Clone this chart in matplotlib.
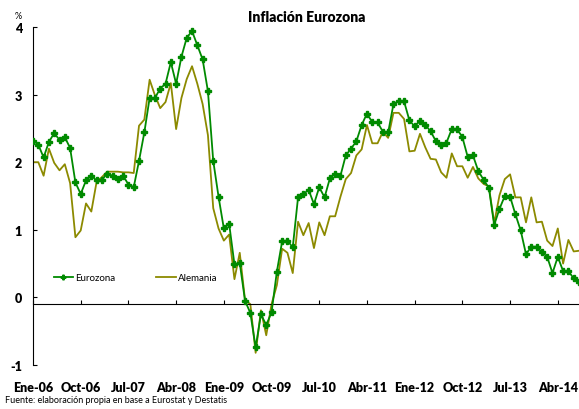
import numpy as np
import matplotlib
matplotlib.use('Agg')
import matplotlib.pyplot as plt

plt.rcParams['font.family'] = ['Lato', 'DejaVu Sans']

# monthly y/y inflation, Jan 2006 .. Aug 2014
eurozona = [2.32, 2.26, 2.07, 2.30, 2.43, 2.33, 2.37, 2.21, 1.70, 1.53,
            1.73, 1.80, 1.73, 1.74, 1.83, 1.80, 1.75, 1.80, 1.67, 1.63,
            2.02, 2.44, 2.95, 2.95, 3.09, 3.16, 3.48, 3.16, 3.56, 3.84,
            3.94, 3.73, 3.52, 3.05, 2.02, 1.49, 1.02, 1.09, 0.49, 0.51,
            -0.05, -0.23, -0.74, -0.25, -0.41, -0.22, 0.38, 0.83, 0.84, 0.74,
            1.48, 1.53, 1.59, 1.38, 1.63, 1.48, 1.76, 1.83, 1.80, 2.10,
            2.20, 2.31, 2.55, 2.72, 2.59, 2.59, 2.45, 2.44, 2.86, 2.91,
            2.90, 2.62, 2.53, 2.61, 2.55, 2.46, 2.31, 2.25, 2.29, 2.49,
            2.49, 2.37, 2.08, 2.10, 1.87, 1.74, 1.62, 1.07, 1.31, 1.50,
            1.49, 1.23, 0.99, 0.64, 0.75, 0.75, 0.67, 0.60, 0.36, 0.60,
            0.39, 0.39, 0.28, 0.23]

alemania = [2.00, 2.00, 1.80, 2.20, 1.99, 1.88, 1.97, 1.69, 0.89, 0.99,
            1.39, 1.27, 1.71, 1.78, 1.86, 1.86, 1.86, 1.85, 1.85, 1.84,
            2.54, 2.63, 3.22, 2.99, 2.80, 2.89, 3.17, 2.49, 2.95, 3.23,
            3.42, 3.16, 2.86, 2.40, 1.32, 1.02, 0.84, 0.93, 0.27, 0.66,
            -0.04, -0.10, -0.82, -0.19, -0.56, -0.10, 0.18, 0.72, 0.66, 0.36,
            1.12, 0.92, 1.10, 0.73, 1.11, 0.92, 1.20, 1.20, 1.49, 1.75,
            1.84, 2.10, 2.19, 2.55, 2.28, 2.28, 2.45, 2.36, 2.73, 2.73,
            2.64, 2.16, 2.17, 2.42, 2.22, 2.05, 2.04, 1.85, 1.77, 2.13,
            1.94, 1.94, 1.77, 1.93, 1.76, 1.68, 1.64, 1.10, 1.51, 1.75,
            1.82, 1.48, 1.48, 1.11, 1.48, 1.11, 1.12, 0.84, 0.76, 1.02,
            0.50, 0.85, 0.68, 0.69]

xlabels = ['Ene-06', 'Oct-06', 'Jul-07', 'Abr-08', 'Ene-09', 'Oct-09',
           'Jul-10', 'Abr-11', 'Ene-12', 'Oct-12', 'Jul-13', 'Abr-14']
yticks = [-1, 0, 1, 2, 3, 4]

months = np.arange(len(eurozona))

fig = plt.figure(figsize=(5.79, 4.10), dpi=100)
ax = fig.add_axes([0.057, 0.1073, 0.943, 0.8244])

l_ale, = ax.plot(months, alemania, color='#8c8a00', lw=1.3, label='Alemania', zorder=2)
l_eur, = ax.plot(months, eurozona, color='#008a00', lw=1.3, marker='P', ms=4.2,
                 label='Eurozona', zorder=3)

ax.set_xlim(0, len(eurozona) - 1)
ax.set_ylim(-1, 4)

for s in ['top', 'right']:
    ax.spines[s].set_visible(False)
ax.spines['bottom'].set_position(('data', -0.1))

ax.set_xticks(months[::9][:len(xlabels)])
ax.set_xticklabels(xlabels, fontsize=9, fontweight='heavy')
ax.tick_params(axis='x', direction='in', length=3, pad=55)
ax.set_yticks(yticks)
ax.set_yticklabels([str(v) for v in yticks], fontsize=9, fontweight='heavy')
ax.tick_params(axis='y', direction='in', length=3, pad=8)

ax.legend(handles=[l_eur, l_ale], loc='center left', bbox_to_anchor=(0.038, 0.259),
          ncol=2, frameon=False, fontsize=7, handlelength=2.0, handletextpad=0.2,
          columnspacing=4.2, borderpad=0, borderaxespad=0, numpoints=1,
          markerscale=0.8)

fig.text(0.53, 0.958, 'Inflación Eurozona', ha='center', va='center',
         fontsize=10, fontweight='heavy')
fig.text(0.031, 0.96, '%', ha='center', va='center', fontsize=6.5)
fig.text(0.009, 0.012, 'Fuente: elaboración propia en base a Eurostat y Destatis',
         ha='left', va='bottom', fontsize=6.5)

fig.savefig('out.png', dpi=100)
